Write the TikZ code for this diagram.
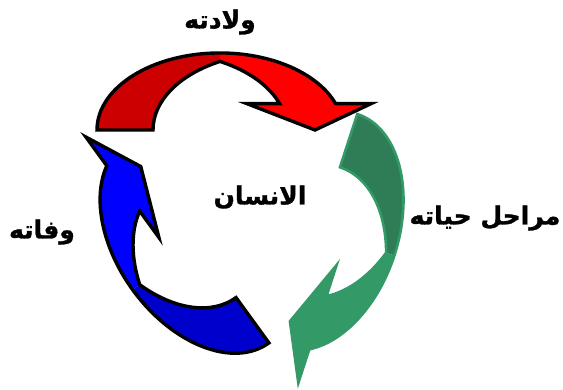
\documentclass[tikz,border=0pt]{standalone}
\usepackage{fontspec}
\usepackage{tikz}
\newfontfamily\arabicfont[Script=Arabic, BoldFeatures={FakeBold=1.2}]{DejaVu Sans}
\TeXXeTstate=1
\definecolor{cycledarkred}{HTML}{CC0000}
\definecolor{cyclered}{HTML}{FF0000}
\definecolor{cycledarkgreen}{HTML}{2E7D57}
\definecolor{cyclegreen}{HTML}{339966}
\definecolor{cycledarkblue}{HTML}{0000CC}
\definecolor{cycleblue}{HTML}{0000FF}

\begin{document}
\begin{tikzpicture}[x=1pt, y=1pt,
    blackrim/.style={draw=black, line width=3.4pt, line join=miter},
    greenrim/.style={draw=cyclegreen, line width=2.6pt, line join=miter},
    cycletext/.style={font=\arabicfont\bfseries\fontsize{25}{30}\selectfont}]
    \useasboundingbox (0,0) rectangle (563,-390);

    % Top arrow
    \begin{scope}[shift={(220,-130)}, yscale=0.975]
        \fill[cycledarkred] (-123,0) arc[start angle=180, end angle=90, x radius=123, y radius=79] -- (0,70.3) arc[start angle=117.08, end angle=180, x radius=123, y radius=79] -- cycle;
        \fill[cyclered] (0,79) arc[start angle=90, end angle=20, x radius=123, y radius=79] -- (151,27) -- (95,0) -- (27,27) -- (59.6,27) arc[start angle=20, end angle=62.92, x radius=123, y radius=79] -- cycle;
        \draw[blackrim] (0,70.3) arc[start angle=117.08, end angle=180, x radius=123, y radius=79] -- (-123,0) arc[start angle=180, end angle=20, x radius=123, y radius=79] -- (151,27) -- (95,0) -- (27,27) -- (59.6,27) arc[start angle=20, end angle=62.92, x radius=123, y radius=79] -- cycle;
    \end{scope}

    % Right arrow
    \begin{scope}[shift={(319.3,-231)}, rotate=-108]
        \fill[cycledarkgreen] (-123,0) arc[start angle=180, end angle=90, x radius=123, y radius=79] -- (0,70.3) arc[start angle=117.08, end angle=180, x radius=123, y radius=79] -- cycle;
        \fill[cyclegreen] (0,79) arc[start angle=90, end angle=20, x radius=123, y radius=79] -- (151,27) -- (95,0) -- (27,27) -- (59.6,27) arc[start angle=20, end angle=62.92, x radius=123, y radius=79] -- cycle;
        \draw[greenrim] (0,70.3) arc[start angle=117.08, end angle=180, x radius=123, y radius=79] -- (-123,0) arc[start angle=180, end angle=20, x radius=123, y radius=79] -- (151,27) -- (95,0) -- (27,27) -- (59.6,27) arc[start angle=20, end angle=62.92, x radius=123, y radius=79] -- cycle;
    \end{scope}

    % Left arrow
    \begin{scope}[shift={(196.6,-243.4)}, rotate=126]
        \fill[cycledarkblue] (-123,0) arc[start angle=180, end angle=90, x radius=123, y radius=79] -- (0,70.3) arc[start angle=117.08, end angle=180, x radius=123, y radius=79] -- cycle;
        \fill[cycleblue] (0,79) arc[start angle=90, end angle=20, x radius=123, y radius=79] -- (151,27) -- (95,0) -- (27,27) -- (59.6,27) arc[start angle=20, end angle=62.92, x radius=123, y radius=79] -- cycle;
        \draw[blackrim] (0,70.3) arc[start angle=117.08, end angle=180, x radius=123, y radius=79] -- (-123,0) arc[start angle=180, end angle=20, x radius=123, y radius=79] -- (151,27) -- (95,0) -- (27,27) -- (59.6,27) arc[start angle=20, end angle=62.92, x radius=123, y radius=79] -- cycle;
    \end{scope}

    % Labels
    \node[cycletext] (birth) at (220,-22) {\beginR ولادته\endR};
    \node[cycletext] (stages) at (485,-218) {\beginR مراحل حياته\endR};
    \node[cycletext] (death) at (42,-232) {\beginR وفاته\endR};
    \node[cycletext] (human) at (260,-197) {\beginR الانسان\endR};
\end{tikzpicture}
\end{document}
